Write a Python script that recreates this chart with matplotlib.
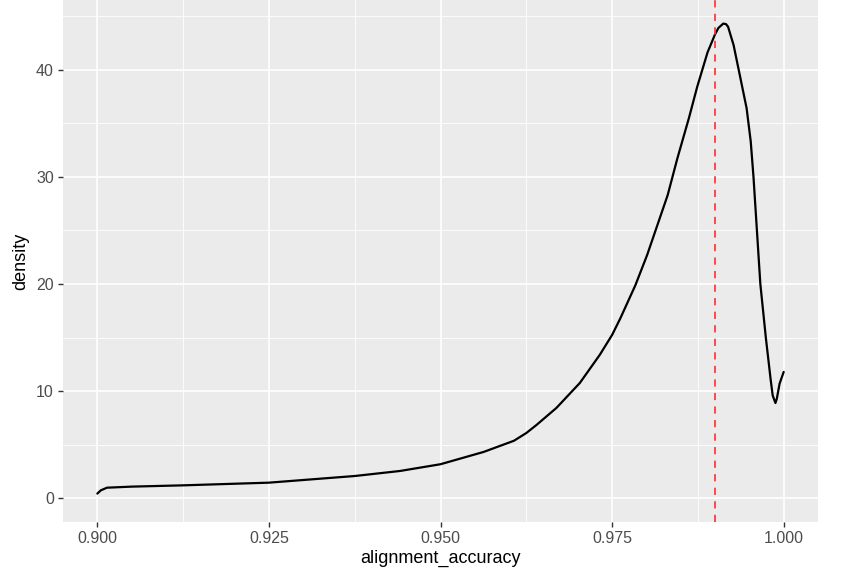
import matplotlib
matplotlib.use("Agg")
import matplotlib.pyplot as plt
from matplotlib.ticker import FixedLocator

# Density curve
accuracy = [0.9000, 0.9005, 0.9014, 0.9050, 0.9125, 0.9250, 0.9375, 0.9441, 0.9500,
            0.9563, 0.9607, 0.9625, 0.9640, 0.9669, 0.9703, 0.9732, 0.9750, 0.9762,
            0.9784, 0.9801, 0.9816, 0.9831, 0.9845, 0.9862, 0.9874, 0.9889,
            0.9900, 0.9905, 0.9912, 0.9916, 0.9919, 0.9927, 0.9937, 0.9946, 0.9952,
            0.9956, 0.9961, 0.9966, 0.9974, 0.9981, 0.9984, 0.9988, 0.9990, 0.9994,
            1.0000]
density = [0.45, 0.75, 1.00, 1.10, 1.22, 1.47, 2.09, 2.56, 3.19,
           4.34, 5.38, 6.10, 6.86, 8.45, 10.77, 13.39, 15.25, 16.80,
           19.90, 22.70, 25.50, 28.30, 31.70, 35.50, 38.40, 41.60,
           43.30, 43.90, 44.30, 44.25, 44.00, 42.30, 39.20, 36.40, 33.30,
           30.00, 25.00, 20.00, 15.00, 11.10, 9.60, 8.90, 9.30, 10.70,
           11.80]
vline_x = 0.990

x_ticks = [0.900, 0.925, 0.950, 0.975, 1.000]
x_labels = ["0.900", "0.925", "0.950", "0.975", "1.000"]
y_ticks = [0, 10, 20, 30, 40]

plt.rcParams['font.family'] = ['Liberation Sans', 'DejaVu Sans']

fig = plt.figure(figsize=(8.53, 5.69), dpi=100)
ax = fig.add_axes([63/853, 47/569, 755/853, 522/569])
ax.set_facecolor('#EBEBEB')
for s in ax.spines.values():
    s.set_visible(False)

ax.set_xlim(0.895, 1.005)
ax.set_ylim(-2.2, 46.5)
ax.xaxis.set_major_locator(FixedLocator(x_ticks))
ax.set_xticklabels(x_labels)
ax.xaxis.set_minor_locator(FixedLocator([0.9125, 0.9375, 0.9625, 0.9875]))
ax.yaxis.set_major_locator(FixedLocator(y_ticks))
ax.yaxis.set_minor_locator(FixedLocator([5, 15, 25, 35, 45]))

ax.grid(which='major', color='white', linewidth=1.2)
ax.grid(which='minor', color='white', linewidth=0.6)
ax.set_axisbelow(True)

ax.tick_params(which='major', length=3.5, width=1, color='#333333',
               labelcolor='#4D4D4D', labelsize=11.5, pad=3)
ax.tick_params(which='minor', length=0)

ax.plot(accuracy, density, color='black', linewidth=1.6, solid_joinstyle='round',
        solid_capstyle='round', zorder=3)
ax.axvline(vline_x, color='#FF3B3B', linewidth=1.3, linestyle=(0, (4, 3.5)), zorder=4)

ax.set_xlabel('alignment_accuracy', fontsize=13, color='black', labelpad=3)
ax.set_ylabel('density', fontsize=13, color='black', labelpad=5)

fig.savefig('out.png', dpi=100)
